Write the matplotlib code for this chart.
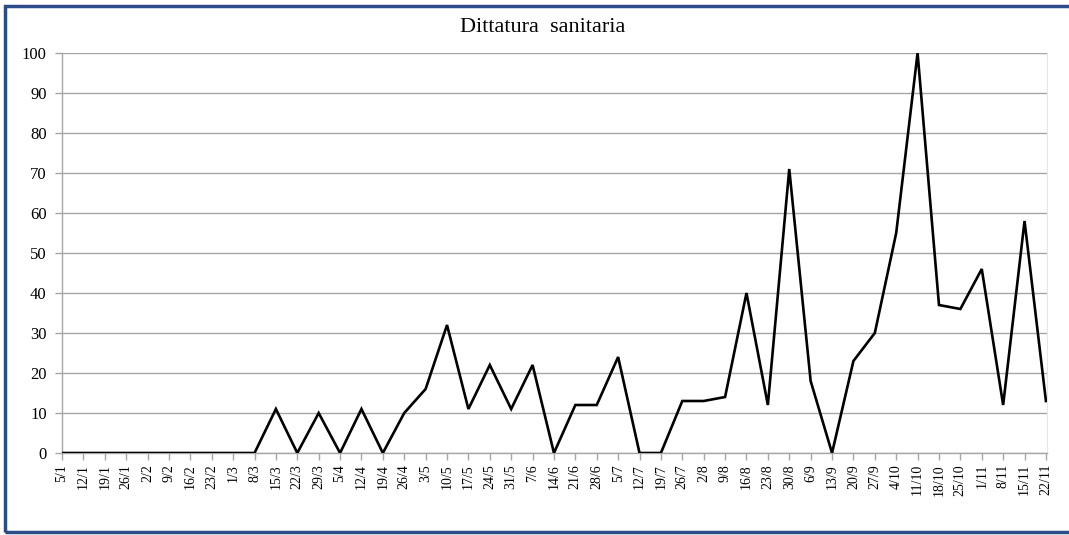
import matplotlib
matplotlib.use("Agg")
import matplotlib.pyplot as plt
from matplotlib.patches import Rectangle

############################################
#                  DATA                    #
############################################

weeks = ['5/1', '12/1', '19/1', '26/1', '2/2', '9/2', '16/2', '23/2', '1/3', '8/3',
         '15/3', '22/3', '29/3', '5/4', '12/4', '19/4', '26/4', '3/5', '10/5', '17/5',
         '24/5', '31/5', '7/6', '14/6', '21/6', '28/6', '5/7', '12/7', '19/7', '26/7',
         '2/8', '9/8', '16/8', '23/8', '30/8', '6/9', '13/9', '20/9', '27/9', '4/10',
         '11/10', '18/10', '25/10', '1/11', '8/11', '15/11', '22/11']

values = [0, 0, 0, 0, 0, 0, 0, 0, 0, 0,
          11, 0, 10, 0, 11, 0, 10, 16, 32, 11,
          22, 11, 22, 0, 12, 12, 24, 0, 0, 13,
          13, 14, 40, 12, 71, 18, 0, 23, 30, 55,
          100, 37, 36, 46, 12, 58, 13]

y_ticks = list(range(0, 101, 10))

############################################
#                PLOTTING                  #
############################################

plt.rcParams['font.family'] = ['Liberation Serif', 'DejaVu Serif']

fig = plt.figure(figsize=(10.69, 5.35), dpi=100)
ax = fig.add_axes([62/1069, 82/535, (1047-62)/1069, (453-53)/535])

x = list(range(len(weeks)))
ax.plot(x, values, color='black', linewidth=1.9, solid_joinstyle='miter', zorder=3)

ax.set_xlim(0, len(weeks) - 0.95)
ax.set_ylim(0, 100)
ax.set_xticks(x)
ax.set_xticklabels(weeks, rotation=90, fontsize=10)
ax.set_yticks(y_ticks)
ax.set_yticklabels([str(v) for v in y_ticks], fontsize=12)
ax.grid(True, axis='y', color='#a6a6a6', linewidth=1.0, zorder=1)

ax.spines['top'].set_visible(False)
ax.spines['right'].set_color('#e6e6e6')
ax.spines['right'].set_linewidth(0.8)
for side in ['left', 'bottom']:
    ax.spines[side].set_color('#a6a6a6')
    ax.spines[side].set_linewidth(1.0)
ax.tick_params(axis='both', color='#a6a6a6', length=5, width=1.0)
ax.tick_params(axis='y', pad=6)
ax.tick_params(axis='x', pad=3)

fig.text(0.508, 0.949, 'Dittatura  sanitaria', ha='center', va='center', fontsize=16)

# outer frame
fig.patches.append(Rectangle((5/1069, 3/535), 1.1, 526/535, transform=fig.transFigure,
                             fill=False, edgecolor='#2b4c86', linewidth=2.5, zorder=10))

plt.savefig("out.png", dpi=100)
